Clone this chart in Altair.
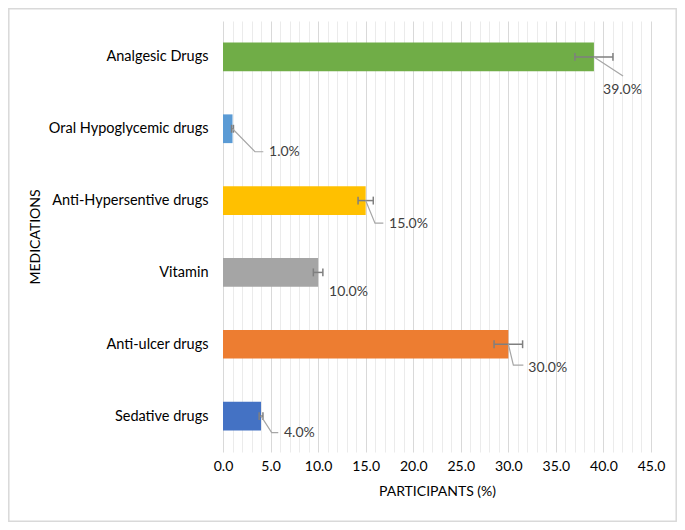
import altair as alt
import pandas as pd

categories = ["Analgesic Drugs", "Oral Hypoglycemic drugs", "Anti-Hypersentive drugs",
              "Vitamin", "Anti-ulcer drugs", "Sedative drugs"]
values = [39.0, 1.0, 15.0, 10.0, 30.0, 4.0]
errors = [2.0, 0.1, 0.8, 0.5, 1.5, 0.2]
colors = ["#70AD47", "#5B9BD5", "#FFC000", "#A5A5A5", "#ED7D31", "#4472C4"]
label_text = ["39.0%", "1.0%", "15.0%", "10.0%", "30.0%", "4.0%"]
# manually placed data labels (x in %, y as offset below the bar centre in category units)
label_x = [39.96, 4.84, 17.46, 11.15, 32.1, 6.41]
label_y = [0.455, 0.33, 0.32, 0.275, 0.33, 0.24]
# leader-line points after the bar end (x in %, y offset in category units)
leader_x = [[42.06], [3.36, 4.24], [15.98, 16.86], [], [30.53, 31.58], [5.12, 5.81]]
leader_y = [[0.265], [0.32, 0.32], [0.315, 0.315], [], [0.29, 0.29], [0.23, 0.23]]

FONT = "Lato"

bars = pd.DataFrame({
    "idx": list(range(len(categories))),
    "cat": categories,
    "value": values,
    "err": errors,
    "color": colors,
    "label": label_text,
    "lx": label_x,
    "ly": label_y,
})

rows = []
for i, c in enumerate(categories):
    if not leader_x[i]:
        continue
    rows.append({"cat": c, "o": 0, "x": values[i], "y": float(i)})
    for k, (px, py) in enumerate(zip(leader_x[i], leader_y[i])):
        rows.append({"cat": c, "o": k + 1, "x": px, "y": i + py})
leaders = pd.DataFrame(rows)

label_expr = "[" + ",".join('"%s"' % c for c in categories) + "][datum.value]"

xscale = alt.Scale(domain=[0, 45], nice=False, zero=False)
yscale = alt.Scale(domain=[-0.5, 5.5], nice=False, zero=False, reverse=True)

xaxis = alt.Axis(
    title="PARTICIPANTS (%)", values=list(range(46)),
    labelExpr="datum.value % 5 === 0 ? format(datum.value, '.1f') : ''",
    grid=True,
    gridColor=alt.condition("datum.value % 5 === 0", alt.value("#d9d9d9"), alt.value("#ebebeb")),
    gridWidth=1, ticks=False, domain=False,
    labelFont=FONT, labelFontSize=14, labelColor="#000000", labelPadding=7,
    titleFont=FONT, titleFontSize=14, titleFontWeight="normal", titleColor="#000000",
    titlePadding=11, labelFlush=False,
)
yaxis = alt.Axis(
    title="MEDICATIONS", values=list(range(6)), labelExpr=label_expr,
    grid=False, ticks=False, domain=False,
    labelFont=FONT, labelFontSize=14.5, labelColor="#000000", labelPadding=15,
    titleFont=FONT, titleFontSize=14, titleFontWeight="normal", titleColor="#000000",
    titleX=-188, titleY=215.5, titleAngle=-90, titleAlign="center", titleBaseline="middle",
)


def X(field):
    return alt.X(field, type="quantitative", scale=xscale, axis=xaxis)


def Y(field):
    return alt.Y(field, type="quantitative", scale=yscale, axis=yaxis)


base = alt.Chart(bars)

bar_layer = base.transform_calculate(
    y0="datum.idx - 0.2", y1="datum.idx + 0.2", zero="0"
).mark_rect().encode(
    x=X("zero"), x2="value:Q",
    y=Y("y0"), y2="y1:Q",
    color=alt.Color("color:N", scale=None),
)

err_base = base.transform_calculate(
    lo="datum.value - datum.err", hi="datum.value + datum.err",
    c0="datum.idx - 0.055", c1="datum.idx + 0.055",
)
err_line = err_base.mark_rule(color="#7f7f7f", strokeWidth=1.5).encode(
    x=X("lo"), x2="hi:Q", y=Y("idx"))
cap_lo = err_base.mark_rule(color="#7f7f7f", strokeWidth=1.5).encode(
    x=X("lo"), y=Y("c0"), y2="c1:Q")
cap_hi = err_base.mark_rule(color="#7f7f7f", strokeWidth=1.5).encode(
    x=X("hi"), y=Y("c0"), y2="c1:Q")

leader_layer = alt.Chart(leaders).mark_line(color="#a6a6a6", strokeWidth=1.2).encode(
    x=X("x"), y=Y("y"), detail="cat:N", order="o:Q")

text_layer = base.transform_calculate(ty="datum.idx + datum.ly").mark_text(
    align="left", baseline="middle", font=FONT, fontSize=14, color="#404040"
).encode(x=X("lx"), y=Y("ty"), text="label:N")

border = alt.Chart(pd.DataFrame({"a": [0]})).mark_rect(
    fill=None, stroke="#d9d9d9", strokeWidth=1.5
).encode(x=alt.value(-214.2), x2=alt.value(453.2), y=alt.value(-12.2), y2=alt.value(500.2))

chart = alt.layer(
    bar_layer, err_line, cap_lo, cap_hi, leader_layer, text_layer, border
).properties(
    width=428, height=431,
    autosize=alt.AutoSizeParams(type="none"),
    padding={"left": 215, "top": 13, "right": 26, "bottom": 70},
    background="white",
).configure_view(stroke=None)

chart.save("out.html", embed_options={"renderer": "svg", "actions": False})
